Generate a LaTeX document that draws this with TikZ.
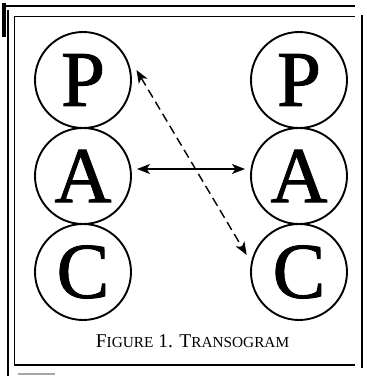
\documentclass[tikz,border=0pt]{standalone}
\usepackage{fontspec}
\setmainfont{Liberation Serif}
\newfontfamily\egofont[FakeBold=1.2]{Liberation Serif}
\usetikzlibrary{arrows.meta, positioning, calc}
\newcommand{\scword}[2]{#1{\fontsize{15.3}{16}\selectfont #2}}

\begin{document}
\begin{tikzpicture}[x=1pt, y=1pt, >={Stealth[length=13pt, width=10pt, inset=3.5pt]},
    egostate/.style={draw, circle, line width=1.9pt, minimum size=96pt, inner sep=0pt, outer sep=0pt, font=\egofont\fontsize{79}{79}\selectfont},
    frameline/.style={line width=1.5pt}]
  \useasboundingbox (0,0) rectangle (367,376);

  % page frame
  \draw[line width=2.5pt] (2,370) -- (355,370);
  \draw[line width=4pt] (4,373) -- (4,339);
  \draw[line width=2.5pt] (8,366) -- (8,0);
  \draw[frameline] (14,359.5) -- (355,359.5);
  \draw[frameline] (14.5,359.5) -- (14.5,11);
  \draw[frameline] (14,11) -- (355,11);
  \draw[line width=2pt] (362,361) -- (362,8);
  \draw[line width=1.5pt, black!35] (18,2) -- (55,2);

  % ego states
  \node[egostate] (Pl) at (83,296) {P};
  \node[egostate, below=0pt of Pl] (Al) {A};
  \node[egostate, below=0pt of Al] (Cl) {C};
  \node[egostate, right=120pt of Pl] (Pr) {P};
  \node[egostate, below=0pt of Pr] (Ar) {A};
  \node[egostate, below=0pt of Ar] (Cr) {C};

  % transactions
  \draw[<->, line width=1.6pt] ($(Al.center)+(54,7)$) -- ($(Ar.center)+(-54,7)$);
  \draw[<->, line width=1.4pt, dash pattern=on 9pt off 5pt] ($(Pl.center)+(53.5,10)$) -- ($(Cr.center)+(-52.3,17)$);

  \node[font=\fontsize{19.5}{20}\selectfont, anchor=base] (caption) at (192.5,28) {\scword{F}{IGURE} 1. \scword{T}{RANSOGRAM}};
\end{tikzpicture}
\end{document}
